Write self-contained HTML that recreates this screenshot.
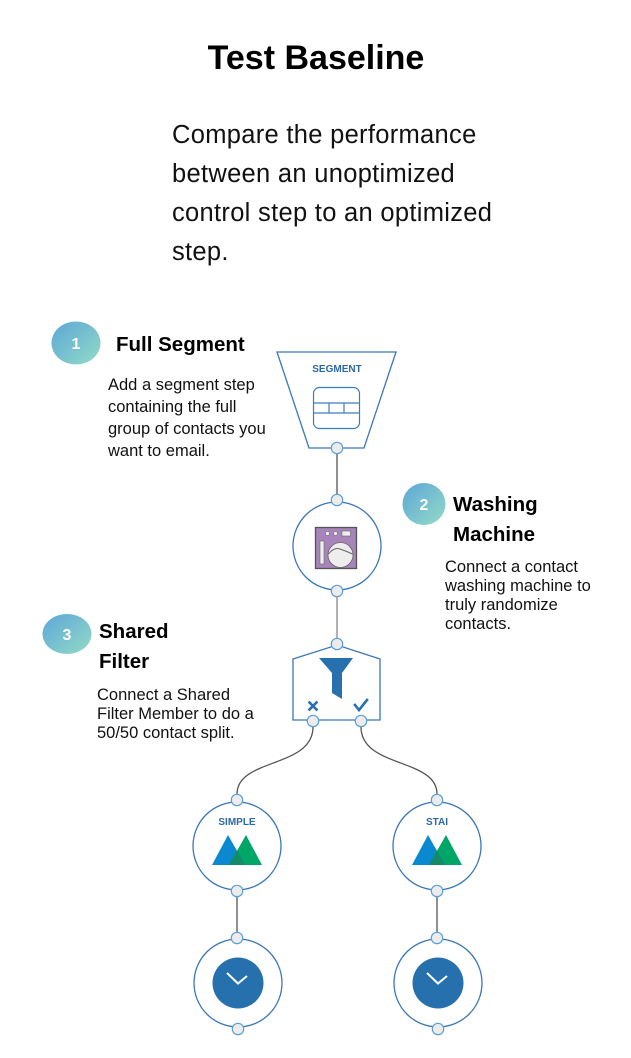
<!DOCTYPE html>
<html>
<head>
<meta charset="utf-8">
<style>
  html,body{margin:0;padding:0;background:#fff;}
  body{width:631px;height:1058px;overflow:hidden;}
  svg{display:block;}
  text{font-family:"Liberation Sans",Arial,sans-serif;}
</style>
</head>
<body>
<svg width="631" height="1058" viewBox="0 0 631 1058" xmlns="http://www.w3.org/2000/svg">
  <defs>
    <linearGradient id="bg" x1="0" y1="0" x2="1" y2="1">
      <stop offset="0" stop-color="#5ca6d8"/>
      <stop offset="1" stop-color="#93dbc6"/>
    </linearGradient>
  </defs>

  <!-- Title -->
  <text x="316" y="69" text-anchor="middle" font-size="34" font-weight="bold" fill="#000">Test Baseline</text>

  <!-- Intro paragraph -->
  <g font-size="25.5" fill="#111" letter-spacing="0.3">
    <text x="172" y="143">Compare the performance</text>
    <text x="172" y="182">between an unoptimized</text>
    <text x="172" y="221">control step to an optimized</text>
    <text x="172" y="260">step.</text>
  </g>

  <!-- Step 1 -->
  <ellipse cx="76" cy="343" rx="24.5" ry="21.5" fill="url(#bg)"/>
  <text x="76" y="349" text-anchor="middle" font-size="16" font-weight="bold" fill="#fff">1</text>
  <text x="116" y="351" font-size="20.5" font-weight="bold" fill="#000">Full Segment</text>
  <g font-size="16.5" fill="#111">
    <text x="108" y="390">Add a segment step</text>
    <text x="108" y="412">containing the full</text>
    <text x="108" y="434">group of contacts you</text>
    <text x="108" y="456">want to email.</text>
  </g>

  <!-- Step 2 -->
  <ellipse cx="424" cy="504" rx="21.5" ry="21" fill="url(#bg)"/>
  <text x="424" y="510" text-anchor="middle" font-size="16" font-weight="bold" fill="#fff">2</text>
  <text x="453" y="511" font-size="20.5" font-weight="bold" fill="#000">Washing</text>
  <text x="453" y="541" font-size="20.5" font-weight="bold" fill="#000">Machine</text>
  <g font-size="16.5" fill="#111">
    <text x="445" y="572">Connect a contact</text>
    <text x="445" y="591">washing machine to</text>
    <text x="445" y="610">truly randomize</text>
    <text x="445" y="629">contacts.</text>
  </g>

  <!-- Step 3 -->
  <ellipse cx="67" cy="634" rx="24.5" ry="20" fill="url(#bg)"/>
  <text x="67" y="640" text-anchor="middle" font-size="16" font-weight="bold" fill="#fff">3</text>
  <text x="99" y="638" font-size="20.5" font-weight="bold" fill="#000">Shared</text>
  <text x="99" y="668" font-size="20.5" font-weight="bold" fill="#000">Filter</text>
  <g font-size="16.5" fill="#111">
    <text x="97" y="700">Connect a Shared</text>
    <text x="97" y="719">Filter Member to do a</text>
    <text x="97" y="738">50/50 contact split.</text>
  </g>

  <!-- Connector lines -->
  <g stroke="#555" stroke-width="1.3" fill="none">
    <line x1="337" y1="454" x2="337" y2="495"/>
    <line x1="337" y1="597" x2="337" y2="638" stroke="#888"/>
    <path d="M313,727 C313,768 237,758 237,794"/>
    <path d="M361,727 C361,768 437,758 437,794"/>
    <line x1="237" y1="897" x2="237" y2="932"/>
    <line x1="437" y1="897" x2="437" y2="932"/>
  </g>

  <!-- Segment node -->
  <polygon points="277,352 396,352 364,448 309,448" fill="#fff" stroke="#3a77b6" stroke-width="1.3"/>
  <text x="337" y="372" text-anchor="middle" font-size="10" font-weight="bold" fill="#2c6aa6">SEGMENT</text>
  <g fill="none" stroke="#3a7cc0" stroke-width="1.2">
    <rect x="313.5" y="387.5" width="46" height="41" rx="6"/>
    <line x1="313.5" y1="403" x2="359.5" y2="403"/>
    <line x1="313.5" y1="413" x2="359.5" y2="413"/>
    <line x1="329" y1="403" x2="329" y2="413"/>
    <line x1="344" y1="403" x2="344" y2="413"/>
  </g>

  <!-- Washing machine node -->
  <circle cx="337" cy="546" r="44" fill="#fff" stroke="#3a77b6" stroke-width="1.3"/>
  <rect x="315.5" y="527.5" width="41" height="41" fill="#a784b9" stroke="#555" stroke-width="1.3"/>
  <circle cx="327.5" cy="533.5" r="2" fill="#eee" stroke="#666" stroke-width="0.6"/>
  <circle cx="335.5" cy="533.5" r="2" fill="#eee" stroke="#666" stroke-width="0.6"/>
  <rect x="342" y="531" width="8.5" height="5" fill="#eee" stroke="#666" stroke-width="0.6"/>
  <rect x="320" y="541" width="4" height="23" fill="#eee" stroke="#666" stroke-width="0.6"/>
  <circle cx="340.5" cy="555" r="12.5" fill="#eee" stroke="#666" stroke-width="0.8"/>
  <path d="M328.5,554 Q334,547 340,549 Q346,551 352.5,554" fill="none" stroke="#666" stroke-width="1"/>

  <!-- Filter node -->
  <polygon points="293,659 337,645 380,659 380,720 293,720" fill="#fff" stroke="#3a77b6" stroke-width="1.3"/>
  <polygon points="319,658 353,658 342,673 342,699 332,693 332,673" fill="#2670ad"/>
  <g stroke="#2670ad" stroke-width="2.6" fill="none" stroke-linecap="square">
    <line x1="309.5" y1="702.5" x2="316.5" y2="709.5"/>
    <line x1="316.5" y1="702.5" x2="309.5" y2="709.5"/>
    <polyline points="355,705 359,710 367,700"/>
  </g>

  <!-- SIMPLE node -->
  <circle cx="237" cy="846" r="44" fill="#fff" stroke="#3a77b6" stroke-width="1.3"/>
  <text x="237" y="825" text-anchor="middle" font-size="10" font-weight="bold" fill="#2c6aa6">SIMPLE</text>
  <polygon points="212,865 228,835 245,865" fill="#0a89d0"/>
  <polygon points="229,865 246,835 262,865" fill="#00a667"/>
  <polygon points="229,865 237,850 245,865" fill="#138a6a"/>

  <!-- STAI node -->
  <circle cx="437" cy="846" r="44" fill="#fff" stroke="#3a77b6" stroke-width="1.3"/>
  <text x="437" y="825" text-anchor="middle" font-size="10" font-weight="bold" fill="#2c6aa6">STAI</text>
  <polygon points="412,865 428,835 445,865" fill="#0a89d0"/>
  <polygon points="429,865 446,835 462,865" fill="#00a667"/>
  <polygon points="429,865 437,850 445,865" fill="#138a6a"/>

  <!-- Wait nodes -->
  <circle cx="238" cy="983" r="44" fill="#fff" stroke="#3a77b6" stroke-width="1.3"/>
  <circle cx="238" cy="983" r="25.5" fill="#2670ad"/>
  <polyline points="227,973 238,983.5 247,976" fill="none" stroke="#fff" stroke-width="2"/>

  <circle cx="438" cy="983" r="44" fill="#fff" stroke="#3a77b6" stroke-width="1.3"/>
  <circle cx="438" cy="983" r="25.5" fill="#2670ad"/>
  <polyline points="427,973 438,983.5 447,976" fill="none" stroke="#fff" stroke-width="2"/>

  <!-- Connector dots -->
  <g fill="#ececec" stroke="#5a9fd8" stroke-width="1.2">
    <circle cx="337" cy="448" r="5.7"/>
    <circle cx="337" cy="500" r="5.7"/>
    <circle cx="337" cy="591" r="5.7"/>
    <circle cx="337" cy="644" r="5.7"/>
    <circle cx="313" cy="721" r="5.7"/>
    <circle cx="361" cy="721" r="5.7"/>
    <circle cx="237" cy="800" r="5.7"/>
    <circle cx="437" cy="800" r="5.7"/>
    <circle cx="237" cy="891" r="5.7"/>
    <circle cx="437" cy="891" r="5.7"/>
    <circle cx="237" cy="938" r="5.7"/>
    <circle cx="437" cy="938" r="5.7"/>
    <circle cx="238" cy="1029" r="5.7"/>
    <circle cx="438" cy="1029" r="5.7"/>
  </g>
</svg>
</body>
</html>
